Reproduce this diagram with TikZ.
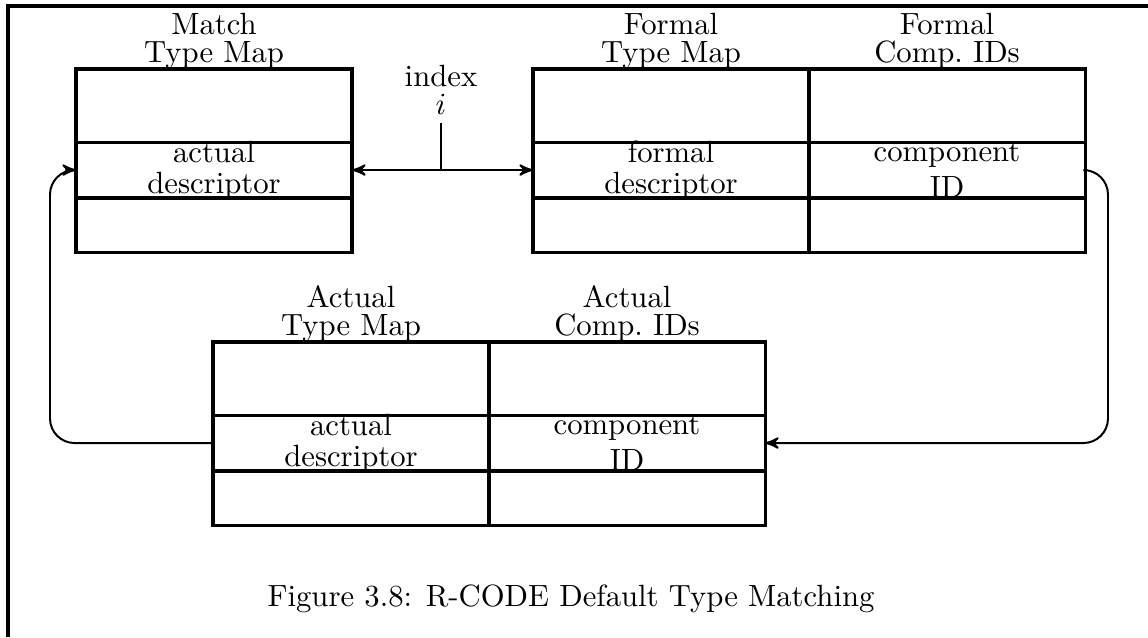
\documentclass[tikz,border=0pt]{standalone}
\usepackage{amsmath}
\usepackage{tikz}
\usetikzlibrary{arrows}
\usetikzlibrary{positioning}
\tikzset{
    cell/.style = {draw=black, line width=1pt, inner sep=0pt, outer sep=0pt, minimum width=89.9pt},
    toprow/.style = {cell, minimum height=23.8pt},
    midrow/.style = {cell, minimum height=18.2pt, label={[align=center, inner sep=0pt]center:#1}},
    botrow/.style = {cell, minimum height=17.9pt},
    head/.style = {anchor=south, align=center, inner sep=0pt},
    link/.style = {line width=0.65pt}
}

\begin{document}
\begin{tikzpicture}
            [x=0.3257pt, y=-0.3257pt, >=stealth']

            \useasboundingbox (0,0) rectangle (1148,637);
            \draw [line width=1.2pt] (8,637) -- (8,6) -- (1148,6);

            % match type map
            \node [toprow, anchor=north west] (mtop) at (76,69) {};
            \node [midrow={actual\\[-2pt]descriptor}, below=0pt of mtop] (mmid) {};
            \node [botrow, below=0pt of mmid] (mbot) {};
            \node [head] (mhead) at (mtop.north) {Match\\[-3pt]Type Map};

            % formal type map and component ids
            \node [toprow, anchor=north west] (ftop) at (533,69) {};
            \node [midrow={formal\\[-2pt]descriptor}, below=0pt of ftop] (fmid) {};
            \node [botrow, below=0pt of fmid] (fbot) {};
            \node [head] (fhead) at (ftop.north) {Formal\\[-3pt]Type Map};
            \node [toprow, right=0pt of ftop] (ctop) {};
            \node [midrow={component\\ID}, below=0pt of ctop] (cmid) {};
            \node [botrow, below=0pt of cmid] (cbot) {};
            \node [head] (chead) at (ctop.north) {Formal\\[-3pt]Comp.~IDs};

            % actual type map and component ids
            \node [toprow, anchor=north west] (atop) at (213,342) {};
            \node [midrow={actual\\[-2pt]descriptor}, below=0pt of atop] (amid) {};
            \node [botrow, below=0pt of amid] (abot) {};
            \node [head] (ahead) at (atop.north) {Actual\\[-3pt]Type Map};
            \node [toprow, right=0pt of atop] (btop) {};
            \node [midrow={component\\ID}, below=0pt of btop] (bmid) {};
            \node [botrow, below=0pt of bmid] (bbot) {};
            \node [head] (bhead) at (btop.north) {Actual\\[-3pt]Comp.~IDs};

            % index
            \node [anchor=south, align=center, inner sep=2.6pt] (idx) at (441,123) {index\\[-3pt]$i$};
            \draw [link, <->] (mmid.east) -- (fmid.west);
            \draw [link] (idx.south) -- (idx.south |- fmid.west);

            % loops
            \coordinate (rturn) at (1108,0);
            \coordinate (lturn) at (50,0);
            \draw [link, ->, rounded corners=8pt] (cmid.east) -- (cmid.east -| rturn) |- (bmid.east);
            \draw [link, ->, rounded corners=8pt] (amid.west) -- (amid.west -| lturn) |- (mmid.west);

            \node [anchor=base] (cap) at (571,606) {Figure 3.8: R-CODE Default Type Matching};
\end{tikzpicture}
\end{document}
